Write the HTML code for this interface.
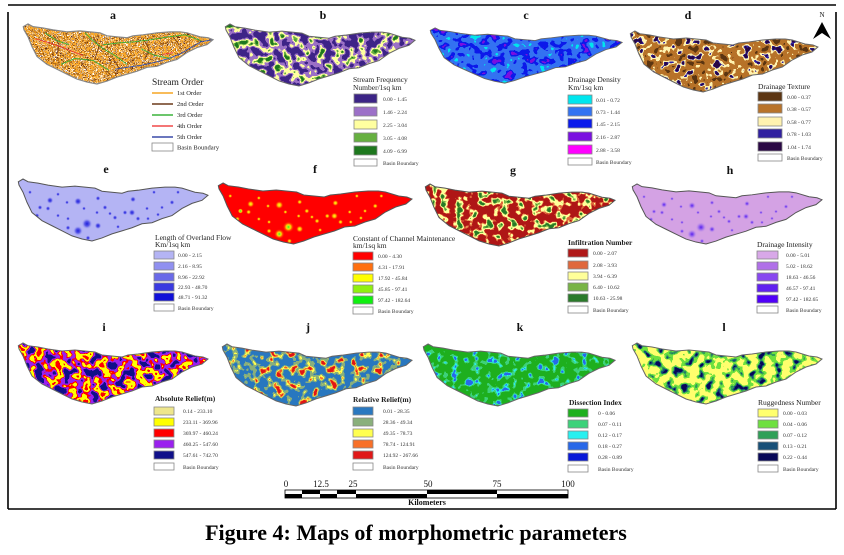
<!DOCTYPE html>
<html><head><meta charset="utf-8"><style>html,body{margin:0;padding:0;background:#fff}svg{display:block}</style></head>
<body>
<svg width="844" height="555" viewBox="0 0 844 555" xmlns="http://www.w3.org/2000/svg" xmlns:xlink="http://www.w3.org/1999/xlink" font-family="'Liberation Serif', serif">
<defs>
<path id="basin" d="M0.3,3.7 L5,1 L10,3.7 L20,5 L30,7 L44,9 L57,8 L67,9 L77,10 L84,13 L94,14 L104,15 L110,13 L120,12 L134,10 L147,9 L157,9 L164,10 L177,14 L185,15 L190,17 L184,22 L174,25 L164,30 L154,37 L144,40 L134,44 L124,45 L114,49 L104,52 L94,55 L84,59 L74,62 L64,60 L54,57 L44,52 L34,47 L24,42 L14,34 L9,24 L5,14 L1,7 Z"/>
<clipPath id="cb"><use href="#basin" xlink:href="#basin"/></clipPath>

<radialGradient id="ge"><stop offset="0" stop-color="#2020dc"/><stop offset="0.45" stop-color="#5a5ae8"/><stop offset="1" stop-color="#b4b4f4" stop-opacity="0"/></radialGradient>
<radialGradient id="gh"><stop offset="0" stop-color="#5a20ee"/><stop offset="0.45" stop-color="#a070ee"/><stop offset="1" stop-color="#d4a2e4" stop-opacity="0"/></radialGradient>
<radialGradient id="gf"><stop offset="0" stop-color="#ffff20"/><stop offset="0.45" stop-color="#ffb000"/><stop offset="1" stop-color="#ff2000" stop-opacity="0"/></radialGradient>
<radialGradient id="gf2"><stop offset="0" stop-color="#20f020"/><stop offset="0.3" stop-color="#b0f020"/><stop offset="0.6" stop-color="#ffd000"/><stop offset="1" stop-color="#ff2000" stop-opacity="0"/></radialGradient>

<g id="spots">
<circle cx="32" cy="22" r="3.5"/><circle cx="60" cy="23" r="4"/><circle cx="80" cy="20" r="2.5"/><circle cx="49" cy="24" r="2"/>
<circle cx="22" cy="29" r="2.5"/><circle cx="30" cy="30" r="2.5"/><circle cx="115" cy="21" r="3"/><circle cx="87" cy="29" r="2.5"/>
<circle cx="114" cy="34" r="3.5"/><circle cx="107" cy="34" r="2.5"/><circle cx="92" cy="35" r="2"/><circle cx="79" cy="34" r="2"/>
<circle cx="69" cy="45" r="5.5"/><circle cx="60" cy="52" r="5"/><circle cx="80" cy="47" r="3.5"/><circle cx="50" cy="49" r="2.5"/>
<circle cx="97" cy="39" r="2.5"/><circle cx="120" cy="40" r="2.5"/><circle cx="129" cy="30" r="2"/><circle cx="144" cy="29" r="2"/>
<circle cx="154" cy="24" r="2.5"/><circle cx="19" cy="37" r="2.5"/><circle cx="24" cy="44" r="2"/><circle cx="50" cy="40" r="2"/>
<circle cx="40" cy="37" r="2"/><circle cx="70" cy="59" r="2.5"/><circle cx="170" cy="29" r="2"/><circle cx="12" cy="14" r="2"/>
<circle cx="100" cy="12" r="2"/><circle cx="136" cy="14" r="2"/><circle cx="160" cy="14" r="2"/><circle cx="100" cy="48" r="2"/>
<circle cx="130" cy="40" r="2"/><circle cx="140" cy="36" r="2"/><circle cx="66" cy="30" r="2"/><circle cx="40" cy="16" r="2"/>
</g>

<filter id="fa" x="0" y="0" width="1" height="1" color-interpolation-filters="sRGB"><feTurbulence type="fractalNoise" baseFrequency="0.25" numOctaves="2" seed="2"/><feColorMatrix type="matrix" values="2.5 0 0 0 -0.75 2.5 0 0 0 -0.75 2.5 0 0 0 -0.75 0 0 0 0 1"/><feComponentTransfer>
<feFuncR type="discrete" tableValues=".98 1 .98 .42 .98 .98 1 .42 .98 .98"/>
<feFuncG type="discrete" tableValues=".66 1 .66 .2 .66 .66 1 .2 .66 .66"/>
<feFuncB type="discrete" tableValues=".16 1 .16 .08 .16 .16 1 .08 .16 .16"/></feComponentTransfer></filter>

<filter id="fb" x="0" y="0" width="1" height="1" color-interpolation-filters="sRGB"><feTurbulence type="fractalNoise" baseFrequency="0.12" numOctaves="2" seed="5"/><feColorMatrix type="matrix" values="2 0 0 0 -0.5 2 0 0 0 -0.5 2 0 0 0 -0.5 0 0 0 0 1"/><feComponentTransfer>
<feFuncR type="discrete" tableValues=".24 .24 .24 .24 .61 .61 1 1 .4 .12"/>
<feFuncG type="discrete" tableValues=".14 .14 .14 .14 .44 .44 1 1 .69 .47"/>
<feFuncB type="discrete" tableValues=".53 .53 .53 .53 .78 .78 .63 .63 .25 .12"/></feComponentTransfer></filter>

<filter id="fc" x="0" y="0" width="1" height="1" color-interpolation-filters="sRGB"><feTurbulence type="fractalNoise" baseFrequency="0.12" numOctaves="2" seed="8"/><feColorMatrix type="matrix" values="2 0 0 0 -0.5 2 0 0 0 -0.5 2 0 0 0 -0.5 0 0 0 0 1"/><feComponentTransfer>
<feFuncR type="discrete" tableValues="0 .2 .2 .2 .2 .2 .05 .05 .05 .48"/>
<feFuncG type="discrete" tableValues=".9 .45 .45 .45 .45 .45 .1 .1 .1 .06"/>
<feFuncB type="discrete" tableValues=".93 .95 .95 .95 .95 .95 .92 .92 .92 .88"/></feComponentTransfer></filter>

<filter id="fd" x="0" y="0" width="1" height="1" color-interpolation-filters="sRGB"><feTurbulence type="fractalNoise" baseFrequency="0.13" numOctaves="2" seed="11"/><feColorMatrix type="matrix" values="2 0 0 0 -0.5 2 0 0 0 -0.5 2 0 0 0 -0.5 0 0 0 0 1"/><feComponentTransfer>
<feFuncR type="discrete" tableValues=".36 .36 .72 .72 .72 .72 1 1 .19 .16"/>
<feFuncG type="discrete" tableValues=".21 .21 .45 .45 .45 .45 .95 .95 .13 .03"/>
<feFuncB type="discrete" tableValues=".07 .07 .16 .16 .16 .16 .69 .69 .63 .27"/></feComponentTransfer></filter>

<filter id="fg" x="0" y="0" width="1" height="1" color-interpolation-filters="sRGB"><feTurbulence type="fractalNoise" baseFrequency="0.13" numOctaves="2" seed="6"/><feColorMatrix type="matrix" values="2 0 0 0 -0.5 2 0 0 0 -0.5 2 0 0 0 -0.5 0 0 0 0 1"/><feComponentTransfer>
<feFuncR type="discrete" tableValues=".69 .69 .69 .69 .69 .88 1 1 .47 .16"/>
<feFuncG type="discrete" tableValues=".09 .09 .09 .09 .09 .41 1 1 .71 .48"/>
<feFuncB type="discrete" tableValues=".09 .09 .09 .09 .09 .24 .6 .6 .27 .16"/></feComponentTransfer></filter>

<filter id="fi" x="0" y="0" width="1" height="1" color-interpolation-filters="sRGB"><feTurbulence type="fractalNoise" baseFrequency="0.11" numOctaves="2" seed="12"/><feColorMatrix type="matrix" values="2 0 0 0 -0.5 2 0 0 0 -0.5 2 0 0 0 -0.5 0 0 0 0 1"/><feComponentTransfer>
<feFuncR type="discrete" tableValues=".06 .06 .06 .6 .6 1 1 1 1 1"/>
<feFuncG type="discrete" tableValues=".06 .06 .06 .13 .13 0 1 1 1 0"/>
<feFuncB type="discrete" tableValues=".54 .54 .54 .93 .93 0 0 0 0 0"/></feComponentTransfer></filter>

<filter id="fj" x="0" y="0" width="1" height="1" color-interpolation-filters="sRGB"><feTurbulence type="fractalNoise" baseFrequency="0.13" numOctaves="2" seed="14"/><feColorMatrix type="matrix" values="2 0 0 0 -0.5 2 0 0 0 -0.5 2 0 0 0 -0.5 0 0 0 0 1"/><feComponentTransfer>
<feFuncR type="discrete" tableValues=".16 .16 .16 .16 .16 .54 .54 1 .97 .88"/>
<feFuncG type="discrete" tableValues=".47 .47 .47 .47 .47 .69 .69 1 .44 .09"/>
<feFuncB type="discrete" tableValues=".75 .75 .75 .75 .75 .49 .49 .31 .16 .09"/></feComponentTransfer></filter>

<filter id="fk" x="0" y="0" width="1" height="1" color-interpolation-filters="sRGB"><feTurbulence type="fractalNoise" baseFrequency="0.14" numOctaves="2" seed="16"/><feColorMatrix type="matrix" values="2 0 0 0 -0.5 2 0 0 0 -0.5 2 0 0 0 -0.5 0 0 0 0 1"/><feComponentTransfer>
<feFuncR type="discrete" tableValues=".12 .12 .12 .12 .12 .12 .24 .24 .16 .16"/>
<feFuncG type="discrete" tableValues=".69 .69 .69 .69 .69 .69 .82 .82 .94 .41"/>
<feFuncB type="discrete" tableValues=".12 .12 .12 .12 .12 .12 .48 .48 .94 .91"/></feComponentTransfer></filter>

<filter id="fl" x="0" y="0" width="1" height="1" color-interpolation-filters="sRGB"><feTurbulence type="fractalNoise" baseFrequency="0.12" numOctaves="2" seed="18"/><feColorMatrix type="matrix" values="2 0 0 0 -0.5 2 0 0 0 -0.5 2 0 0 0 -0.5 0 0 0 0 1"/><feComponentTransfer>
<feFuncR type="discrete" tableValues="1 1 1 1 1 .43 .43 .19 .09 .03"/>
<feFuncG type="discrete" tableValues="1 1 1 1 1 .88 .88 .63 .31 .03"/>
<feFuncB type="discrete" tableValues=".43 .43 .43 .43 .43 .25 .25 .35 .47 .35"/></feComponentTransfer></filter>
</defs>

<rect width="844" height="555" fill="#fff"/>

<!-- frame -->
<g stroke="#000" stroke-width="1.6" fill="none">
<line x1="8" y1="5" x2="836" y2="5"/>
<line x1="8" y1="12" x2="8" y2="509"/>
<line x1="836" y1="12" x2="836" y2="509"/>
<line x1="8" y1="509" x2="836" y2="509"/>
</g>

<!-- panel labels -->
<g font-size="12" font-weight="bold" text-anchor="middle" fill="#111">
<text x="113" y="19">a</text><text x="323" y="19">b</text><text x="526" y="19">c</text><text x="688" y="19">d</text>
<text x="106" y="173">e</text><text x="315" y="173">f</text><text x="513" y="174">g</text><text x="730" y="174">h</text>
<text x="104" y="331">i</text><text x="308" y="331">j</text><text x="520" y="331">k</text><text x="724" y="331">l</text>
</g>

<!-- north arrow -->
<text x="822" y="17" font-size="7" text-anchor="middle" fill="#111">N</text>
<path d="M822,22 L831,39 L822,33 L813,39 Z" fill="#000"/>

<!-- maps -->
<g transform="translate(23,23) scale(1,0.984)">
<rect width="190" height="63" filter="url(#fa)" clip-path="url(#cb)"/>
<g fill="none" stroke-width="0.9" clip-path="url(#cb)">
<path stroke="#7a4220" d="M30,12 L36,22 L34,32 M70,14 L76,24 L72,36 M120,16 L126,26 L122,36 M150,14 L156,22 M90,36 L96,46 L92,54 M58,40 L64,48"/>
<path stroke="#2f4fb0" d="M190,17 L178,19 L168,25 L158,31 L146,36 L132,40 L118,43 L104,45 L92,47"/>
<path stroke="#e83838" d="M12,16 L26,20 L40,25 L52,30 L60,33 M140,32 L150,30"/>
<path stroke="#38b038" d="M22,10 L34,18 L46,22 M62,10 L70,18 L80,26 L92,33 L104,42 M80,22 L98,20 L112,19 L128,17 L146,14 L162,12 L178,18 M118,26 L132,33 L148,36 M38,42 L52,36 L70,38 L86,48"/>
</g>
<use href="#basin" xlink:href="#basin" fill="none" stroke="#888" stroke-width="1.2"/>
</g>
<g transform="translate(225,23) scale(1,1.016)"><rect width="190" height="63" filter="url(#fb)" clip-path="url(#cb)"/><use href="#basin" xlink:href="#basin" fill="none" stroke="#666" stroke-width="1"/></g>
<g transform="translate(430,27) scale(1.011,0.905)"><rect width="190" height="63" filter="url(#fc)" clip-path="url(#cb)"/><use href="#basin" xlink:href="#basin" fill="none" stroke="#666" stroke-width="1"/></g>
<g transform="translate(630,30) scale(0.989,1)"><rect width="190" height="63" filter="url(#fd)" clip-path="url(#cb)"/><use href="#basin" xlink:href="#basin" fill="none" stroke="#666" stroke-width="1"/></g>

<g transform="translate(18,178) scale(1,1.016)">
<use href="#basin" xlink:href="#basin" fill="#b4b4f4"/>
<use href="#spots" xlink:href="#spots" fill="url(#ge)" clip-path="url(#cb)"/>
<use href="#basin" xlink:href="#basin" fill="none" stroke="#555" stroke-width="1"/></g>
<g transform="translate(218,182) scale(1.021,1)">
<use href="#basin" xlink:href="#basin" fill="#ff0000"/>
<use href="#spots" xlink:href="#spots" fill="url(#gf)" clip-path="url(#cb)"/>
<circle cx="69" cy="45" r="4" fill="url(#gf2)"/><circle cx="60" cy="52" r="3.5" fill="url(#gf2)"/><circle cx="22" cy="29" r="2.5" fill="url(#gf2)"/>
<use href="#basin" xlink:href="#basin" fill="none" stroke="#555" stroke-width="1"/></g>
<g transform="translate(425,183) scale(1,1.016)"><rect width="190" height="63" filter="url(#fg)" clip-path="url(#cb)"/><use href="#basin" xlink:href="#basin" fill="none" stroke="#555" stroke-width="1"/></g>
<g transform="translate(632,183) scale(1,0.984)">
<use href="#basin" xlink:href="#basin" fill="#d4a2e4"/>
<use href="#spots" xlink:href="#spots" fill="url(#gh)" clip-path="url(#cb)"/>
<use href="#basin" xlink:href="#basin" fill="none" stroke="#555" stroke-width="1"/></g>

<g transform="translate(18,342)"><rect width="190" height="63" filter="url(#fi)" clip-path="url(#cb)"/><use href="#basin" xlink:href="#basin" fill="none" stroke="#666" stroke-width="1"/></g>
<g transform="translate(222,343) scale(1,1.016)"><rect width="190" height="63" filter="url(#fj)" clip-path="url(#cb)"/><use href="#basin" xlink:href="#basin" fill="none" stroke="#666" stroke-width="1"/></g>
<g transform="translate(423,343) scale(1.011,1.016)"><rect width="190" height="63" filter="url(#fk)" clip-path="url(#cb)"/><use href="#basin" xlink:href="#basin" fill="none" stroke="#666" stroke-width="1"/></g>
<g transform="translate(632,342)"><rect width="190" height="63" filter="url(#fl)" clip-path="url(#cb)"/><use href="#basin" xlink:href="#basin" fill="none" stroke="#666" stroke-width="1"/></g>

<!-- legend a -->
<g fill="#222">
<text x="152" y="85" font-size="9.5">Stream Order</text>
<g stroke-width="1.6">
<line x1="152" y1="93" x2="173" y2="93" stroke="#f5a623"/>
<line x1="152" y1="104" x2="173" y2="104" stroke="#6b3a1a"/>
<line x1="152" y1="115" x2="173" y2="115" stroke="#3cb43c"/>
<line x1="152" y1="126" x2="173" y2="126" stroke="#f04848"/>
<line x1="152" y1="137" x2="173" y2="137" stroke="#3a4aa8"/>
</g>
<rect x="152" y="143" width="21" height="8" fill="#fff" stroke="#888" stroke-width="0.8"/>
<g font-size="6.5">
<text x="177" y="95">1st Order</text><text x="177" y="106">2nd Order</text><text x="177" y="117">3rd Order</text><text x="177" y="128">4th Order</text><text x="177" y="139">5th Order</text><text x="177" y="149.5">Basin Boundary</text>
</g>
</g>

<!-- generic legends -->
<g fill="#222" font-size="7.5">
<text x="353" y="82">Stream Frequency</text><text x="353" y="90">Number/1sq km</text>
<text x="568" y="82">Drainage Density</text><text x="568" y="90">Km/1sq km</text>
<text x="758" y="89">Drainage Texture</text>
<text x="155" y="240">Length of Overland Flow</text><text x="155" y="247">Km/1sq km</text>
<text x="353" y="241">Constant of Channel Maintenance</text><text x="353" y="248">km/1sq km</text>
<text x="568" y="245" font-weight="bold">Infiltration Number</text>
<text x="757" y="247">Drainage Intensity</text>
<text x="155" y="401" font-weight="bold">Absolute Relief(m)</text>
<text x="353" y="402" font-weight="bold">Relative Relief(m)</text>
<text x="569" y="405" font-weight="bold">Dissection Index</text>
<text x="758" y="405">Ruggedness Number</text>
</g>

<g stroke="#888" stroke-width="0.8">
<rect x="354" y="94" width="23" height="9" fill="#3c2486"/><rect x="354" y="107" width="23" height="9" fill="#9c70c8"/><rect x="354" y="120" width="23" height="9" fill="#ffffa0"/><rect x="354" y="133" width="23" height="9" fill="#66b040"/><rect x="354" y="146" width="23" height="9" fill="#1e781e"/><rect x="354" y="159" width="23" height="7" fill="#fff"/>
<rect x="568" y="95" width="24" height="9" fill="#00e6ee"/><rect x="568" y="107" width="24" height="9" fill="#3373f2"/><rect x="568" y="119" width="24" height="9" fill="#0a1aeb"/><rect x="568" y="132" width="24" height="9" fill="#7a10e0"/><rect x="568" y="145" width="24" height="9" fill="#ff00ff"/><rect x="568" y="158" width="24" height="7" fill="#fff"/>
<rect x="758" y="92" width="24" height="9" fill="#5c3512"/><rect x="758" y="104" width="24" height="9" fill="#b8732a"/><rect x="758" y="117" width="24" height="9" fill="#fff2b0"/><rect x="758" y="129" width="24" height="9" fill="#3020a0"/><rect x="758" y="142" width="24" height="9" fill="#2a0845"/><rect x="758" y="154" width="24" height="7" fill="#fff"/>
<rect x="154" y="251" width="20" height="8" fill="#b4b4f4"/><rect x="154" y="262" width="20" height="8" fill="#9090f0"/><rect x="154" y="273" width="20" height="8" fill="#6a6ae8"/><rect x="154" y="283" width="20" height="8" fill="#3a3ae0"/><rect x="154" y="293" width="20" height="8" fill="#1010d8"/><rect x="154" y="304" width="20" height="7" fill="#fff"/>
<rect x="353" y="252" width="20" height="8" fill="#ff0000"/><rect x="353" y="263" width="20" height="8" fill="#ff7010"/><rect x="353" y="274" width="20" height="8" fill="#ffff00"/><rect x="353" y="285" width="20" height="8" fill="#90f010"/><rect x="353" y="296" width="20" height="8" fill="#10f010"/><rect x="353" y="307" width="20" height="7" fill="#fff"/>
<rect x="568" y="249" width="20" height="8" fill="#b01818"/><rect x="568" y="261" width="20" height="8" fill="#e0683c"/><rect x="568" y="272" width="20" height="8" fill="#ffff99"/><rect x="568" y="283" width="20" height="8" fill="#78b446"/><rect x="568" y="294" width="20" height="8" fill="#2a7a2a"/><rect x="568" y="306" width="20" height="7" fill="#fff"/>
<rect x="757" y="251" width="21" height="8" fill="#d8a8e8"/><rect x="757" y="262" width="21" height="8" fill="#b070e8"/><rect x="757" y="273" width="21" height="8" fill="#8848f0"/><rect x="757" y="284" width="21" height="8" fill="#6020f0"/><rect x="757" y="295" width="21" height="8" fill="#5000f8"/><rect x="757" y="306" width="21" height="7" fill="#fff"/>
<rect x="154" y="407" width="20" height="8" fill="#eee68c"/><rect x="154" y="418" width="20" height="8" fill="#ffff00"/><rect x="154" y="429" width="20" height="8" fill="#ff0000"/><rect x="154" y="440" width="20" height="8" fill="#9a20ee"/><rect x="154" y="451" width="20" height="8" fill="#10108a"/><rect x="154" y="463" width="20" height="7" fill="#fff"/>
<rect x="353" y="407" width="20" height="8" fill="#2a78c0"/><rect x="353" y="418" width="20" height="8" fill="#8ab07c"/><rect x="353" y="429" width="20" height="8" fill="#ffff50"/><rect x="353" y="440" width="20" height="8" fill="#f87028"/><rect x="353" y="451" width="20" height="8" fill="#e01818"/><rect x="353" y="463" width="20" height="7" fill="#fff"/>
<rect x="568" y="409" width="20" height="8" fill="#1eb01e"/><rect x="568" y="420" width="20" height="8" fill="#3cd27a"/><rect x="568" y="431" width="20" height="8" fill="#28f0f0"/><rect x="568" y="442" width="20" height="8" fill="#2868e8"/><rect x="568" y="453" width="20" height="8" fill="#0818d8"/><rect x="568" y="465" width="20" height="7" fill="#fff"/>
<rect x="758" y="409" width="20" height="8" fill="#ffff6e"/><rect x="758" y="420" width="20" height="8" fill="#6ee040"/><rect x="758" y="431" width="20" height="8" fill="#30a058"/><rect x="758" y="442" width="20" height="8" fill="#185078"/><rect x="758" y="453" width="20" height="8" fill="#080858"/><rect x="758" y="465" width="20" height="7" fill="#fff"/>
</g>

<g fill="#333" font-size="5.5">
<text x="383" y="101">0.00 - 1.45</text><text x="383" y="114">1.46 - 2.24</text><text x="383" y="127">2.25 - 3.04</text><text x="383" y="140">3.05 - 4.08</text><text x="383" y="153">4.09 - 6.99</text><text x="383" y="165">Basin Boundary</text>
<text x="596" y="102">0.01 - 0.72</text><text x="596" y="114">0.73 - 1.44</text><text x="596" y="126">1.45 - 2.15</text><text x="596" y="139">2.16 - 2.87</text><text x="596" y="152">2.88 - 3.58</text><text x="596" y="164">Basin Boundary</text>
<text x="787" y="99">0.00 - 0.37</text><text x="787" y="111">0.38 - 0.57</text><text x="787" y="124">0.58 - 0.77</text><text x="787" y="136">0.78 - 1.03</text><text x="787" y="149">1.04 - 1.74</text><text x="787" y="160">Basin Boundary</text>
<text x="178" y="257">0.00 - 2.15</text><text x="178" y="268">2.16 - 8.95</text><text x="178" y="279">8.96 - 22.92</text><text x="178" y="289">22.93 - 48.70</text><text x="178" y="299">48.71 - 91.32</text><text x="178" y="310">Basin Boundary</text>
<text x="378" y="258">0.00 - 4.30</text><text x="378" y="269">4.31 - 17.91</text><text x="378" y="280">17.92 - 45.84</text><text x="378" y="291">45.85 - 97.41</text><text x="378" y="302">97.42 - 182.64</text><text x="378" y="313">Basin Boundary</text>
<text x="593" y="255">0.00 - 2.07</text><text x="593" y="267">2.08 - 3.93</text><text x="593" y="278">3.94 - 6.39</text><text x="593" y="289">6.40 - 10.62</text><text x="593" y="300">10.63 - 25.98</text><text x="593" y="312">Basin Boundary</text>
<text x="786" y="257">0.00 - 5.01</text><text x="786" y="268">5.02 - 18.62</text><text x="786" y="279">18.63 - 46.56</text><text x="786" y="290">46.57 - 97.41</text><text x="786" y="301">97.42 - 182.65</text><text x="786" y="312">Basin Boundary</text>
<text x="183" y="413">0.14 - 233.10</text><text x="183" y="424">233.11 - 369.96</text><text x="183" y="435">369.97 - 460.24</text><text x="183" y="446">460.25 - 547.60</text><text x="183" y="457">547.61 - 742.70</text><text x="183" y="469">Basin Boundary</text>
<text x="383" y="413">0.01 - 28.35</text><text x="383" y="424">28.36 - 49.34</text><text x="383" y="435">49.35 - 78.73</text><text x="383" y="446">78.74 - 124.91</text><text x="383" y="457">124.92 - 267.66</text><text x="383" y="469">Basin Boundary</text>
<text x="598" y="415">0 - 0.06</text><text x="598" y="426">0.07 - 0.11</text><text x="598" y="437">0.12 - 0.17</text><text x="598" y="448">0.18 - 0.27</text><text x="598" y="459">0.28 - 0.89</text><text x="598" y="471">Basin Boundary</text>
<text x="783" y="415">0.00 - 0.03</text><text x="783" y="426">0.04 - 0.06</text><text x="783" y="437">0.07 - 0.12</text><text x="783" y="448">0.13 - 0.21</text><text x="783" y="459">0.22 - 0.44</text><text x="783" y="471">Basin Boundary</text>
</g>

<!-- scale bar -->
<g font-size="9" text-anchor="middle" fill="#111">
<text x="286" y="487">0</text><text x="321" y="487">12.5</text><text x="353" y="487">25</text><text x="428" y="487">50</text><text x="497" y="487">75</text><text x="568" y="487">100</text>
</g>
<g>
<rect x="285" y="490" width="283" height="8" fill="#fff" stroke="#000" stroke-width="0.8"/>
<rect x="302" y="490" width="18" height="4" fill="#000"/>
<rect x="337" y="490" width="19" height="4" fill="#000"/>
<rect x="427" y="490" width="70" height="4" fill="#000"/>
<rect x="285" y="494" width="17" height="4" fill="#000"/>
<rect x="320" y="494" width="17" height="4" fill="#000"/>
<rect x="356" y="494" width="71" height="4" fill="#000"/>
<rect x="497" y="494" width="71" height="4" fill="#000"/>
</g>
<text x="427" y="505" font-size="8" font-weight="bold" text-anchor="middle" fill="#111">Kilometers</text>

<!-- caption -->
<text x="416" y="540" font-size="22" font-weight="bold" text-anchor="middle" fill="#000">Figure 4: Maps of morphometric parameters</text>
</svg>
</body></html>
